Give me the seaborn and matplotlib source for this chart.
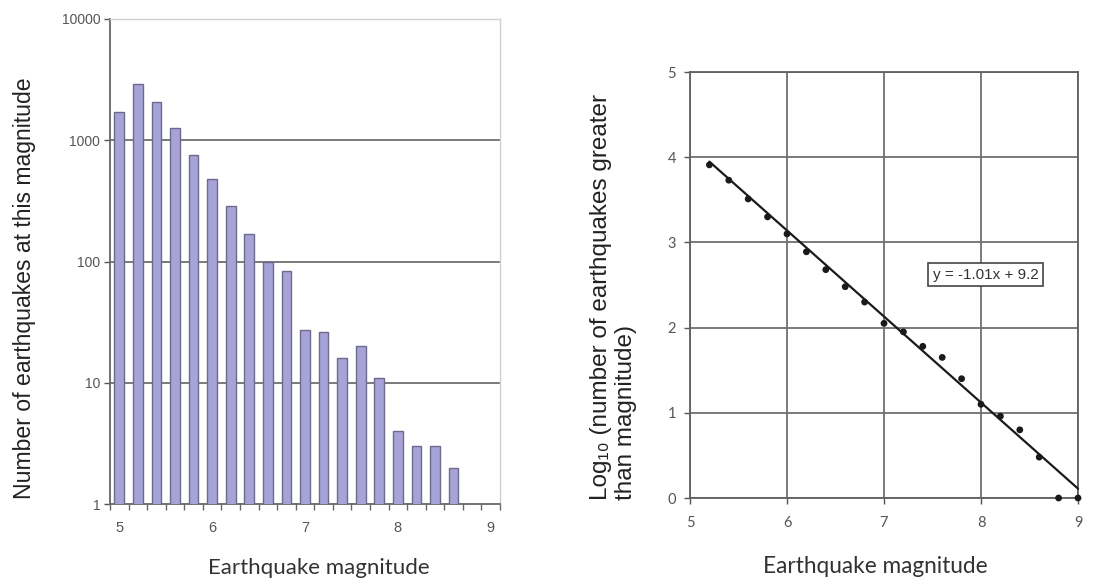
import matplotlib
matplotlib.use("Agg")
import matplotlib.pyplot as plt
import matplotlib.ticker as mticker
import numpy as np
import pandas as pd
import seaborn as sns

# Counts per magnitude bin (0.2 wide)
magnitudes = [5.0, 5.2, 5.4, 5.6, 5.8, 6.0, 6.2, 6.4, 6.6, 6.8,
              7.0, 7.2, 7.4, 7.6, 7.8, 8.0, 8.2, 8.4, 8.6]
counts = [1700, 2900, 2050, 1250, 750, 480, 285, 170, 100, 83,
          27, 26, 16, 20, 11, 4, 3, 3, 2]

# log10 of the cumulative number of earthquakes above each magnitude
cum_magnitudes = [5.2, 5.4, 5.6, 5.8, 6.0, 6.2, 6.4, 6.6, 6.8, 7.0,
                  7.2, 7.4, 7.6, 7.8, 8.0, 8.2, 8.4, 8.6, 8.8, 9.0]
log_cum = [3.91, 3.73, 3.51, 3.30, 3.10, 2.89, 2.68, 2.48, 2.30, 2.05,
           1.95, 1.78, 1.65, 1.40, 1.10, 0.96, 0.80, 0.48, 0.0, 0.0]

# Least-squares fit shown on the right panel
fit_slope = -1.01
fit_intercept = 9.2
fit_label = "y = -1.01x + 9.2"

left_ticks = [1, 10, 100, 1000, 10000]
x_ticks = [5, 6, 7, 8, 9]
right_yticks = [0, 1, 2, 3, 4, 5]

sns.set_theme(style="white")
plt.rcParams["font.family"] = ["Liberation Sans", "DejaVu Sans"]

fig = plt.figure(figsize=(10.97, 5.80), dpi=100)
fig.patch.set_facecolor("white")

ax1 = fig.add_axes([110 / 1097, 1 - 504 / 580, 390 / 1097, 485 / 580])
ax2 = fig.add_axes([690 / 1097, 1 - 498 / 580, 388 / 1097, 426 / 580])

tick_color = "#555555"
grid_color = "#707070"

# ---- Left panel: histogram on a log axis ----
bars = pd.DataFrame({"magnitude": magnitudes, "count": counts})
ax1.set_yscale("log")
sns.barplot(data=bars, x="magnitude", y="count", native_scale=True,
            width=0.52, color="#a7a2d8", edgecolor="#6e6a8c", linewidth=1.0,
            saturation=1, ax=ax1, zorder=3)
ax1.set_ylim(1, 10000)
ax1.set_xlim(4.9, 9.1)
for v in [10, 100, 1000]:
    ax1.axhline(v, color=grid_color, lw=1.3, zorder=2)

ax1.yaxis.set_major_locator(mticker.FixedLocator(left_ticks))
ax1.yaxis.set_major_formatter(mticker.FixedFormatter([str(t) for t in left_ticks]))
ax1.yaxis.set_minor_locator(mticker.NullLocator())
ax1.set_xticks(x_ticks)
ax1.set_xticklabels([str(t) for t in x_ticks])
ax1.xaxis.set_minor_locator(mticker.FixedLocator(np.arange(4.9, 9.11, 0.2)))
ax1.tick_params(axis="y", which="major", direction="out", length=4, width=1,
                color="#555555", labelsize=10, labelcolor=tick_color, pad=3, left=True)
ax1.tick_params(axis="x", which="major", length=0, labelsize=10.5,
                labelcolor=tick_color, pad=12)
ax1.tick_params(axis="x", which="minor", direction="out", length=4, width=1,
                color="#666666", bottom=True)
for side in ["top", "right"]:
    ax1.spines[side].set_color("#d0d0d0")
    ax1.spines[side].set_linewidth(1.0)
for side in ["left", "bottom"]:
    ax1.spines[side].set_color("#666666")
    ax1.spines[side].set_linewidth(1.3)

ax1.set_xlabel("Earthquake magnitude", family=["Lato", "DejaVu Sans"],
               fontsize=16, color="#333333")
ax1.xaxis.set_label_coords(0.536, -0.112)
ax1.set_ylabel("Number of earthquakes at this magnitude", fontsize=16.6,
               color="#222222")
ax1.yaxis.set_label_coords(-0.19, 0.446)

# ---- Right panel: cumulative counts with linear fit ----
pts = pd.DataFrame({"magnitude": cum_magnitudes, "log_count": log_cum})
sns.scatterplot(data=pts, x="magnitude", y="log_count", color="#1a1a1a",
                s=24, edgecolor="none", ax=ax2, zorder=4, clip_on=False)
fit_x = np.array([cum_magnitudes[0], cum_magnitudes[-1]])
fit = pd.DataFrame({"magnitude": fit_x, "fit": fit_slope * fit_x + fit_intercept})
sns.lineplot(data=fit, x="magnitude", y="fit", color="#1a1a1a", lw=1.6,
             ax=ax2, zorder=3, clip_on=False)
ax2.set_xlim(5, 9)
ax2.set_ylim(0, 5)
ax2.set_xticks(x_ticks)
ax2.set_yticks(right_yticks)
ax2.grid(True, color=grid_color, lw=1.3, zorder=1)
ax2.set_axisbelow(True)
for side in ax2.spines.values():
    side.set_color("#606060")
    side.set_linewidth(1.3)
ax2.tick_params(axis="both", direction="out", length=4, width=1,
                color="#555555", labelsize=10.5, labelcolor=tick_color,
                left=True, bottom=True)
ax2.tick_params(axis="y", pad=6)
ax2.tick_params(axis="x", pad=9)
for lab in ax2.get_xticklabels() + ax2.get_yticklabels():
    lab.set_family(["Lato", "DejaVu Sans"])

ax2.text(8.05, 2.62, fit_label, fontsize=11, color="#333333",
         ha="center", va="center",
         bbox=dict(boxstyle="square,pad=0.3", fc="white", ec="#444444", lw=1.2),
         zorder=5)

ax2.set_xlabel("Earthquake magnitude", family=["Lato", "DejaVu Sans"],
               fontsize=16.3, color="#333333")
ax2.xaxis.set_label_coords(0.477, -0.135)
ax2.set_ylabel("Log\u2081\u2080 (number of earthquakes greater\nthan magnitude)",
               fontsize=17.5, color="#222222", multialignment="left",
               linespacing=1.15)
ax2.yaxis.set_label_coords(-0.137, 0.473)

fig.savefig("out.png", dpi=100, facecolor="white")
